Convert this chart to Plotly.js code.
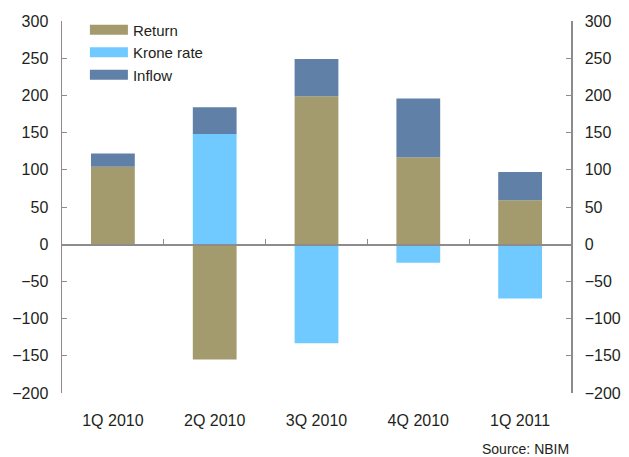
<!DOCTYPE html>
<html>
<head>
<meta charset="utf-8">
<script src="https://cdn.plot.ly/plotly-3.0.1.min.js"></script>
<style>html,body{margin:0;padding:0;background:#fff;}#chart{width:629px;height:457px;}</style>
</head>
<body>
<div id="chart"></div>
<script>
const categories = ["1Q 2010", "2Q 2010", "3Q 2010", "4Q 2010", "1Q 2011"];
const seriesNames = ["Return", "Krone rate", "Inflow"];
const returnVals = [104, -155, 199, 117, 59];
const kroneVals = [0, 148, -133, -25, -73];
const inflowVals = [18, 36, 50, 79, 38];
const seriesColors = ["#A39A6E", "#70CAFF", "#6180A8"];
const yTickVals = [-200, -150, -100, -50, 0, 50, 100, 150, 200, 250, 300];

const axisColor = "#8c8c8c";
const textColor = "#231f20";
const fontFam = "'Liberation Sans', Arial, sans-serif";

const seriesVals = [returnVals, kroneVals, inflowVals];
const traces = [];
seriesVals.forEach((vals, i) => {
  traces.push({type: "bar", name: seriesNames[i], x: categories, y: vals,
               marker: {color: seriesColors[i]}, showlegend: false});
});
// legend entries drawn as wide swatches
seriesVals.forEach((vals, i) => {
  traces.push({type: "scatter", mode: "lines", name: seriesNames[i], x: [null], y: [null],
               line: {color: seriesColors[i], width: 12}, showlegend: true, hoverinfo: "skip"});
});

const layout = {
  width: 629, height: 457,
  margin: {l: 62, r: 58, t: 21, b: 64},
  paper_bgcolor: "#fff", plot_bgcolor: "#fff",
  barmode: "relative",
  bargap: 0.57,
  font: {family: fontFam, size: 16, color: textColor},
  showlegend: true,
  legend: {x: 0.045, y: 1.02, xanchor: "left", yanchor: "top", bgcolor: "rgba(0,0,0,0)",
           font: {size: 15, color: textColor}, tracegroupgap: 0, itemwidth: 38},
  xaxis: {type: "category", categoryarray: categories, range: [-0.5, 4.5],
          showline: false, ticks: "", showgrid: false, zeroline: false,
          ticklabelstandoff: 16, tickfont: {size: 16, color: textColor}},
  xaxis2: {type: "category", categoryarray: categories, range: [-0.5, 4.5],
           overlaying: "x", anchor: "free", position: 0.4, side: "bottom",
           showline: true, linecolor: axisColor, linewidth: 1.5,
           ticks: "inside", tickson: "boundaries", ticklen: 5, tickcolor: axisColor,
           showticklabels: false, showgrid: false, zeroline: false},
  yaxis: {range: [-200, 300], tickvals: yTickVals, showline: true, linecolor: axisColor, linewidth: 1.5,
          ticks: "inside", ticklen: 5, tickcolor: axisColor, showgrid: false, zeroline: false,
          ticklabelstandoff: 9, tickfont: {size: 16, color: textColor}},
  yaxis2: {range: [-200, 300], tickvals: yTickVals, overlaying: "y", side: "right",
           showline: true, linecolor: axisColor, linewidth: 1.5,
           ticks: "inside", ticklen: 5, tickcolor: axisColor, showgrid: false, zeroline: false,
           ticklabelstandoff: 9, tickfont: {size: 16, color: textColor}},
  annotations: [{text: "Source: NBIM", xref: "paper", yref: "paper", x: 1.0, y: -0.15,
                 xanchor: "right", yanchor: "middle", showarrow: false,
                 font: {size: 14, color: textColor}}]
};

// invisible helper traces so overlay axes render
traces.push({type: "bar", x: categories, y: [0,0,0,0,0], xaxis: "x2", yaxis: "y", showlegend: false, hoverinfo: "skip", marker: {color: "rgba(0,0,0,0)"}});
traces.push({type: "scatter", mode: "markers", x: categories, y: [0,0,0,0,0], xaxis: "x", yaxis: "y2", showlegend: false, hoverinfo: "skip", marker: {opacity: 0}});

Plotly.newPlot("chart", traces, layout, {staticPlot: true});
</script>
</body>
</html>
